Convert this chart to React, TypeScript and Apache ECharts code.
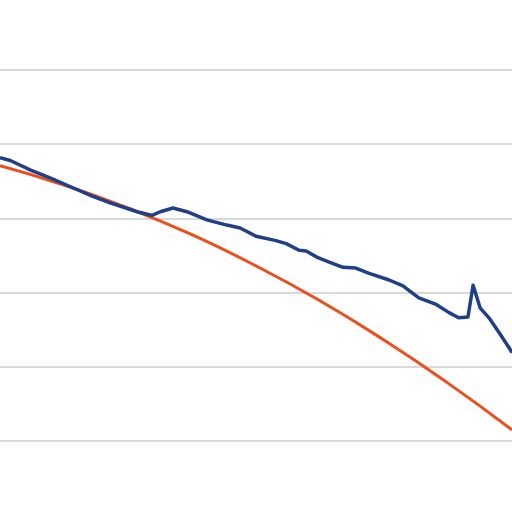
import React, { useEffect, useRef } from 'react';
import * as echarts from 'echarts';

// x in percent of the plot width, y in gridline units (1 = lowest gridline)
const blueX = [0, 2, 6, 10, 14, 18, 21.5, 26.8, 29.7, 31.3, 33.8, 36.5, 40.4, 44.3, 46.9, 50, 53.9, 55.9, 58.4, 59.8, 62.1, 64.3, 67, 69.5, 72.1, 76, 78.7, 81.8, 85.2, 87.7, 89.6, 91.4, 92.4, 93.8, 95.5, 97.5, 99.4, 100];
const blueY = [4.82, 4.78, 4.65, 4.54, 4.42, 4.30, 4.21, 4.09, 4.04, 4.09, 4.14, 4.09, 3.98, 3.91, 3.87, 3.76, 3.70, 3.66, 3.57, 3.56, 3.47, 3.41, 3.34, 3.33, 3.26, 3.17, 3.09, 2.93, 2.84, 2.73, 2.66, 2.67, 3.10, 2.79, 2.66, 2.46, 2.26, 2.19];

const orangeX = [0, 12.5, 25, 37.5, 50, 62.5, 75, 87.5, 100];
const orangeY = [4.71, 4.45, 4.14, 3.78, 3.36, 2.89, 2.36, 1.78, 1.15];

const gridTicks = [1, 2, 3, 4, 5, 6];

const App: React.FC = () => {
  const chartRef = useRef<HTMLDivElement>(null);

  useEffect(() => {
    if (!chartRef.current) return;
    const chart = echarts.init(chartRef.current, undefined, { renderer: 'svg' });
    chart.setOption({
      animation: false,
      grid: { left: 0, right: 0, top: 70, bottom: 71 },
      xAxis: {
        type: 'value',
        min: 0,
        max: 100,
        show: false,
      },
      yAxis: {
        type: 'value',
        min: gridTicks[0],
        max: gridTicks[gridTicks.length - 1],
        interval: 1,
        axisLabel: { show: false },
        axisLine: { show: false },
        axisTick: { show: false },
        splitLine: { lineStyle: { color: '#d9d9d9', width: 2 } },
      },
      series: [
        {
          type: 'line',
          data: orangeX.map((x, i) => [x, orangeY[i]]),
          smooth: true,
          showSymbol: false,
          lineStyle: { color: '#ee4d1c', width: 3 },
        },
        {
          type: 'line',
          data: blueX.map((x, i) => [x, blueY[i]]),
          showSymbol: false,
          lineStyle: { color: '#1f3f86', width: 3.5, join: 'round' },
        },
      ],
    });
    return () => chart.dispose();
  }, []);

  return <div ref={chartRef} style={{ width: 512, height: 512, position: 'absolute', left: 0, top: 0 }} />;
};

export default App;
